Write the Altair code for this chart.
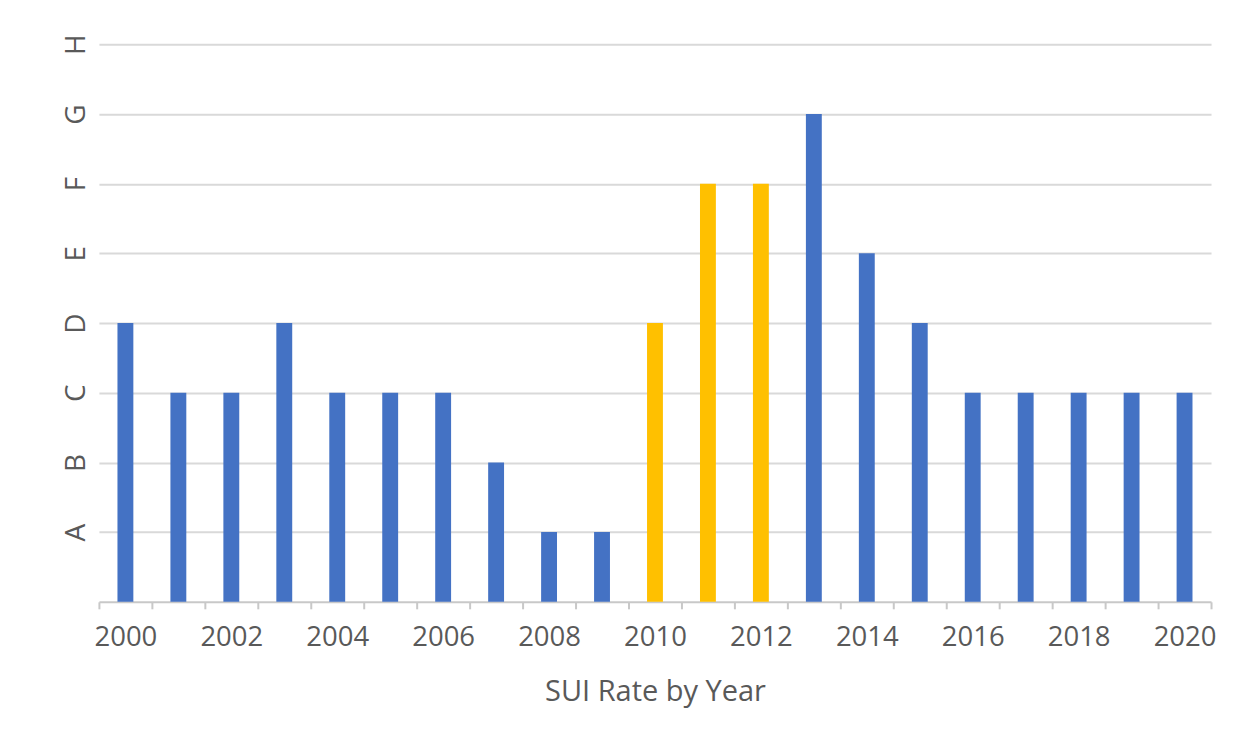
import altair as alt
import pandas as pd

years = list(range(2000, 2021))
grades = ["D", "C", "C", "D", "C", "C", "C", "B", "A", "A",
          "D", "F", "F", "G", "E", "D", "C", "C", "C", "C", "C"]
highlight_years = [2010, 2011, 2012]
levels = ["A", "B", "C", "D", "E", "F", "G", "H"]
series_names = ["Other years", "2010-2012"]
colors = ["#4472C4", "#FFC000"]
x_title = "SUI Rate by Year"

df = pd.DataFrame({"year": years, "grade": grades})
df["level"] = [levels.index(g) + 1 for g in grades]
df["group"] = [series_names[1] if y in highlight_years else series_names[0] for y in years]

label_array = "[" + ",".join(["''"] + [f"'{l}'" for l in levels]) + "]"

FONT = "Open Sans"
TEXT = "#595959"

chart = alt.Chart(df).mark_bar(width=alt.RelativeBandSize(0.3)).encode(
    x=alt.X(
        "year:O",
        scale=alt.Scale(paddingInner=0, paddingOuter=0),
        axis=alt.Axis(
            title=x_title,
            labelAngle=0,
            tickBand="extent",
            labelExpr="toNumber(datum.value) % 2 == 0 ? datum.label : ''",
            labelOverlap=False,
            labelFont=FONT, labelFontSize=27.5, labelColor=TEXT, labelPadding=15,
            titleFont=FONT, titleFontSize=29, titleColor=TEXT, titleFontWeight="normal",
            titlePadding=26,
            domainColor="#C8C8C8", domainWidth=2,
            tickColor="#C8C8C8", tickWidth=2, tickSize=7,
        ),
    ),
    y=alt.Y(
        "level:Q",
        scale=alt.Scale(domain=[0, 8], nice=False),
        axis=alt.Axis(
            title=None,
            values=list(range(1, 9)),
            labelExpr=f"{label_array}[datum.value]",
            labelAngle=270,
            labelAlign="center",
            labelBaseline="alphabetic",
            labelPadding=14,
            labelFont=FONT, labelFontSize=28, labelColor=TEXT,
            ticks=False, domain=False,
            grid=True, gridColor="#D9D9D9", gridWidth=2,
        ),
    ),
    color=alt.Color("group:N", scale=alt.Scale(domain=series_names, range=colors), legend=None),
).properties(
    width=1113,
    height=558,
    autosize=alt.AutoSizeParams(type="none"),
    padding={"left": 91, "top": 36, "right": 30, "bottom": 130},
).configure_view(stroke=None)

chart.save("out.html", embed_options={"renderer": "svg", "actions": False})
